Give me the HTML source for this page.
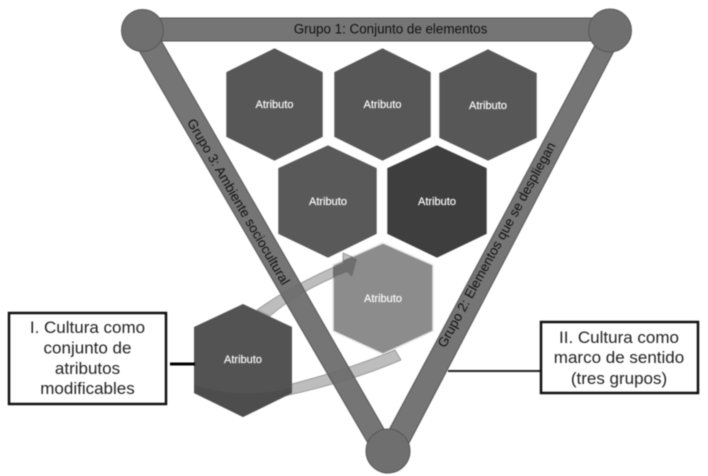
<!DOCTYPE html>
<html>
<head>
<meta charset="utf-8">
<style>
html,body{margin:0;padding:0;background:#fff;width:708px;height:476px;overflow:hidden}
svg{display:block;filter:blur(0.55px)}
text{font-family:"Liberation Sans",sans-serif}
.a{fill:#fff;font-size:11px;text-anchor:middle;stroke:#fff;stroke-width:0.15}
.g{fill:#111;font-size:13.4px;text-anchor:middle}
.b{fill:#222;font-size:17px;text-anchor:middle}
</style>
</head>
<body>
<svg width="708" height="476" viewBox="0 0 708 476" xmlns="http://www.w3.org/2000/svg">
<defs>
<clipPath id="lh"><polygon points="383,243 433,265 433,331 383,354 333,331 333,265"/></clipPath>
<clipPath id="bh"><polygon points="243,304 292,327 292,393 243,417 194,393 194,327"/></clipPath>
</defs>
<rect width="708" height="476" fill="#fff"/>

<!-- hexagons -->
<g stroke="#fff" stroke-width="0.6">
<polygon points="274.5,48 323,72 323,137 274.5,161 226,137 226,72" fill="#575757"/>
<polygon points="382.5,48 431,72 431,137 382.5,161 334,137 334,72" fill="#575757"/>
<polygon points="488,49 537,73 537,138 488,161 439,138 439,73" fill="#575757"/>
<polygon points="328,145 377,168 377,234 328,258 278,234 278,168" fill="#595959"/>
<polygon points="437,145 487,168 487,234 437,258 387,234 387,168" fill="#3e3e3e"/>
<polygon points="383,243 433,265 433,331 383,354 333,331 333,265" fill="#8c8c8c" stroke="#e8e8e8" stroke-width="1.5"/>
</g>

<!-- lower curved band -->
<path d="M280,387 Q345,371 395,350 L401,360 Q350,382 280,397 Z" fill="#bdbdbd" stroke="#8f8f8f" stroke-width="0.8"/>
<!-- upper curved arrow -->
<path d="M257,310 Q290,286 343,263 L343,253 L357,259 L352,277 L347,272 Q300,290 270,316 Z" fill="#bdbdbd" stroke="#8f8f8f" stroke-width="0.8"/>
<path clip-path="url(#lh)" d="M257,310 Q290,286 343,263 L343,253 L357,259 L352,277 L347,272 Q300,290 270,316 Z" fill="#6e6e6e"/>

<!-- bars -->
<g stroke="#565656" stroke-width="1" fill="#6a6a6a" fill-opacity="0.93">
<polygon points="142,18 610,18 610,41 142,41"/>
<polygon points="127,30 155,30 392,443 369,445"/>
<polygon points="603,30 625,30 409,443 390,428"/>
</g>

<!-- circles -->
<g fill="#6f6f6f" stroke="#585858" stroke-width="1">
<circle cx="142.500" cy="30.500" r="21"/>
<circle cx="610" cy="30.500" r="21.500"/>
<circle cx="388" cy="451" r="22"/>
</g>

<!-- bottom-left hexagon -->
<polygon points="243,304 292,327 292,393 243,417 194,393 194,327" fill="#535353"/>
<path clip-path="url(#bh)" d="M194,385 Q240,400 292,388 L292,420 L194,420 Z" fill="#4d4d4d"/>

<text class="a" x="274.500" y="108">Atributo</text>
<text class="a" x="382.500" y="108">Atributo</text>
<text class="a" x="488" y="109">Atributo</text>
<text class="a" x="328" y="205">Atributo</text>
<text class="a" x="437" y="205">Atributo</text>
<text class="a" x="383" y="302">Atributo</text>
<text class="a" x="243" y="363">Atributo</text>

<text class="g" x="390.500" y="33.500">Grupo 1: Conjunto de elementos</text>
<text class="g" transform="translate(238,202) rotate(59.700)" x="0" y="4">Grupo 3: Ambiente sociocultural</text>
<text class="g" transform="translate(497,245) rotate(-61.400)" x="0" y="4">Grupo 2: Elementos que se despliegan</text>

<!-- connectors -->
<line x1="170" y1="364" x2="195" y2="364" stroke="#000" stroke-width="3"/>
<line x1="448" y1="371" x2="541" y2="371" stroke="#222" stroke-width="2"/>

<!-- boxes -->
<rect x="9" y="313" width="157" height="91" fill="#fff" stroke="#111" stroke-width="2.500"/>
<text class="b" x="87.500" y="333">I. Cultura como</text>
<text class="b" x="87.500" y="353.500">conjunto de</text>
<text class="b" x="87.500" y="374">atributos</text>
<text class="b" x="87.500" y="394">modificables</text>

<rect x="541" y="322" width="157" height="71" fill="#fff" stroke="#111" stroke-width="2.500"/>
<text class="b" x="619" y="343">II. Cultura como</text>
<text class="b" x="619" y="363">marco de sentido</text>
<text class="b" x="619" y="384">(tres grupos)</text>
</svg>
</body>
</html>
